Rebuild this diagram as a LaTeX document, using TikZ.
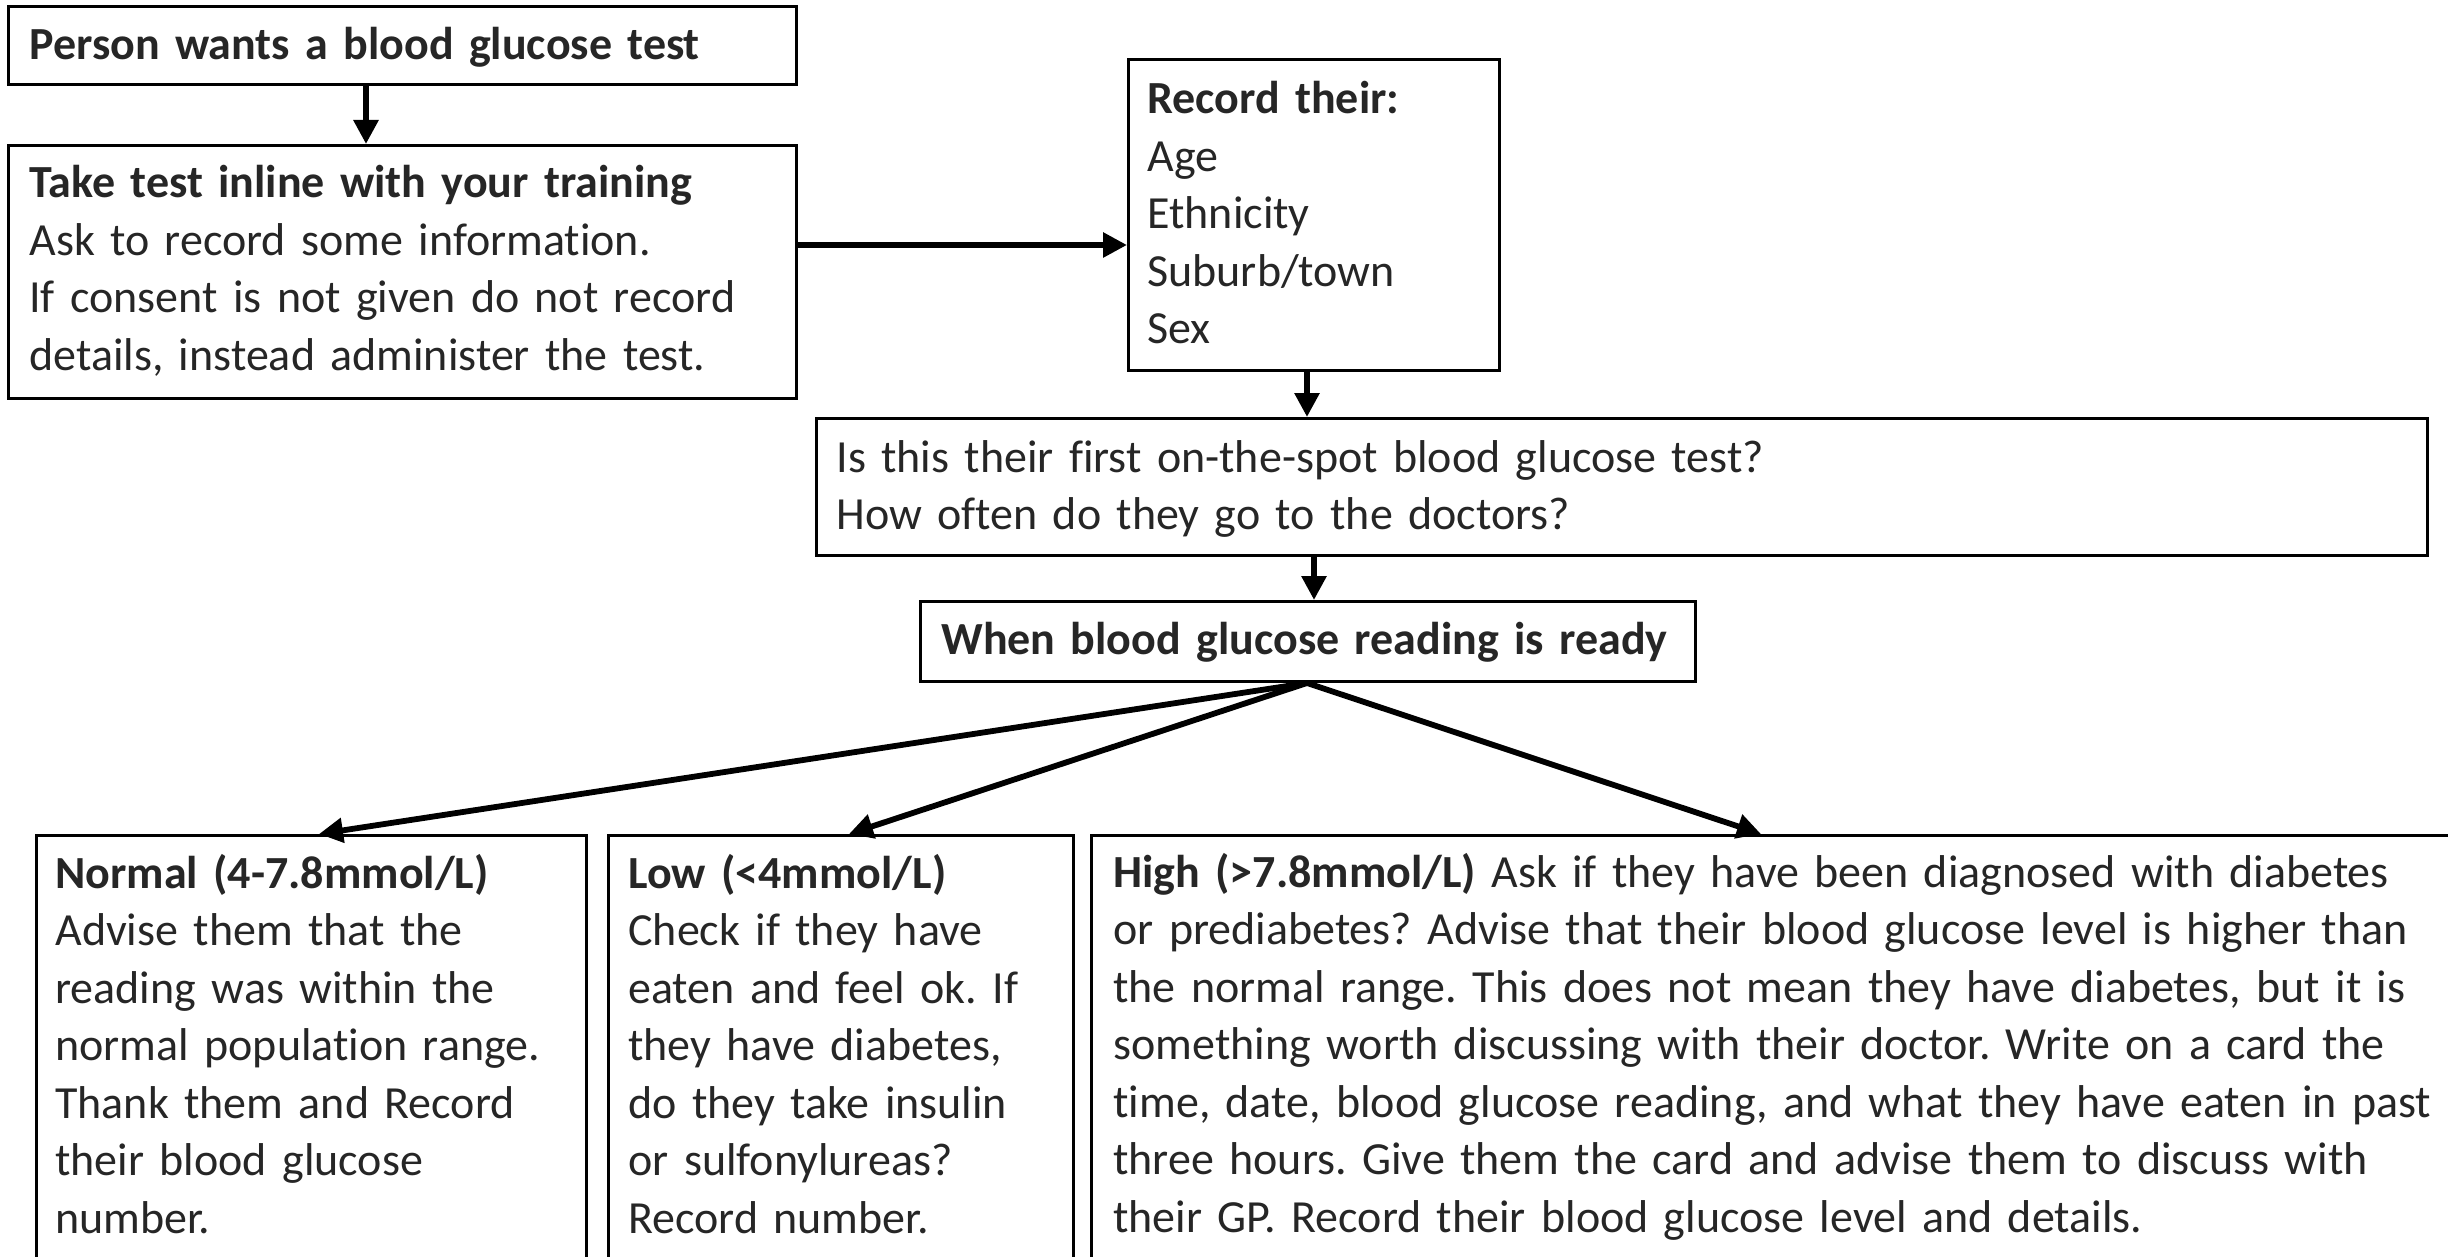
\documentclass[tikz,border=0pt]{standalone}
\usepackage{fontspec}
\setmainfont{Carlito}[Ligatures=NoCommon]
\usetikzlibrary{arrows.meta,calc}
\definecolor{txtc}{HTML}{262626}
\frenchspacing
\begin{document}
\begin{tikzpicture}[x=0.5pt,y=-0.5pt,
  box/.style={draw=black,line width=1.5pt,inner sep=0pt,anchor=north west,rectangle},
  label/.style={anchor=base west,inner sep=0pt,align=left,text=txtc,
    font=\fontsize{23pt}{28.75pt}\selectfont\frenchspacing,text width=760pt},
  arr/.style={draw=black,line width=2.9pt,-{Triangle[length=12pt,width=12pt]}}]
\useasboundingbox (0,0) rectangle (2448,1257);
\clip (0,0) rectangle (2448,1257);
\fill[white] (0,0) rectangle (2448,1257);

% boxes
\node[box,minimum width=394pt,minimum height=39pt] (b1) at (7,5) {};
\node[box,minimum width=394pt,minimum height=126.5pt] (b2) at (7,144) {};
\node[box,minimum width=185.5pt,minimum height=155.5pt] (rec) at (1127,58) {};
\node[box,minimum width=805.5pt,minimum height=68.5pt] (q) at (815,417) {};
\node[box,minimum width=387.5pt,minimum height=40pt] (when) at (919,600) {};
\node[box,minimum width=275pt,minimum height=240pt] (norm) at (35,834) {};
\node[box,minimum width=232.5pt,minimum height=240pt] (low) at (607,834) {};
\node[box,minimum width=700pt,minimum height=240pt] (high) at (1090,834) {};

% texts
\node[label] (t1) at (29,60) {\textbf{Person wants a blood glucose test}};
\node[label] (t2) at (29,198) {\textbf{Take test inline with your training}\\
Ask to record some information.\\
If consent is not given do not record\\
details, instead administer the test.};
\node[label] (t3) at (1147,114) {\textbf{Record their:}\\Age\\Ethnicity\\Suburb/town\\Sex};
\node[label] (t4) at (836,472) {Is this their first on-the-spot blood glucose test?\\
How often do they go to the doctors?};
\node[label] (t5) at (941,654) {\textbf{When blood glucose reading is ready}};
\node[label] (t6) at (55,888) {\textbf{Normal (4-7.8mmol/L)}\\
Advise them that the\\
reading was within the\\
normal population range.\\
Thank them and Record\\
their blood glucose\\
number.};
\node[label] (t7) at (628,888) {\textbf{Low (<4mmol/L)}\\
Check if they have\\
eaten and feel ok. If\\
they have diabetes,\\
do they take insulin\\
or sulfonylureas?\\
Record number.};
\node[label] (t8) at (1113,887) {\textbf{High (>7.8mmol/L)} Ask if they have been diagnosed with diabetes\\
or prediabetes? Advise that their blood glucose level is higher than\\
the normal range. This does not mean they have diabetes, but it is\\
something worth discussing with their doctor. Write on a card the\\
time, date, blood glucose reading, and what they have eaten in past\\
three hours. Give them the card and advise them to discuss with\\
their GP. Record their blood glucose level and details.};

% connectors
\draw[arr] ($(b1.south west)+(359,0)$) -- ($(b2.north west)+(359,0)$);
\draw[arr] ($(b2.north east)+(0,101)$) -- ($(rec.north west)+(0,187)$);
\draw[arr] ($(rec.south west)+(180,0)$) -- ($(q.north west)+(492,0)$);
\draw[arr] ($(q.south west)+(499,0)$) -- ($(when.north west)+(395,0)$);
\draw[arr] ($(when.south west)+(388,0)$) -- ($(norm.north west)+(284,0)$);
\draw[arr] ($(when.south west)+(388,0)$) -- ($(low.north west)+(242,0)$);
\draw[arr] ($(when.south west)+(388,0)$) -- ($(high.north west)+(671,0)$);
\end{tikzpicture}
\end{document}
